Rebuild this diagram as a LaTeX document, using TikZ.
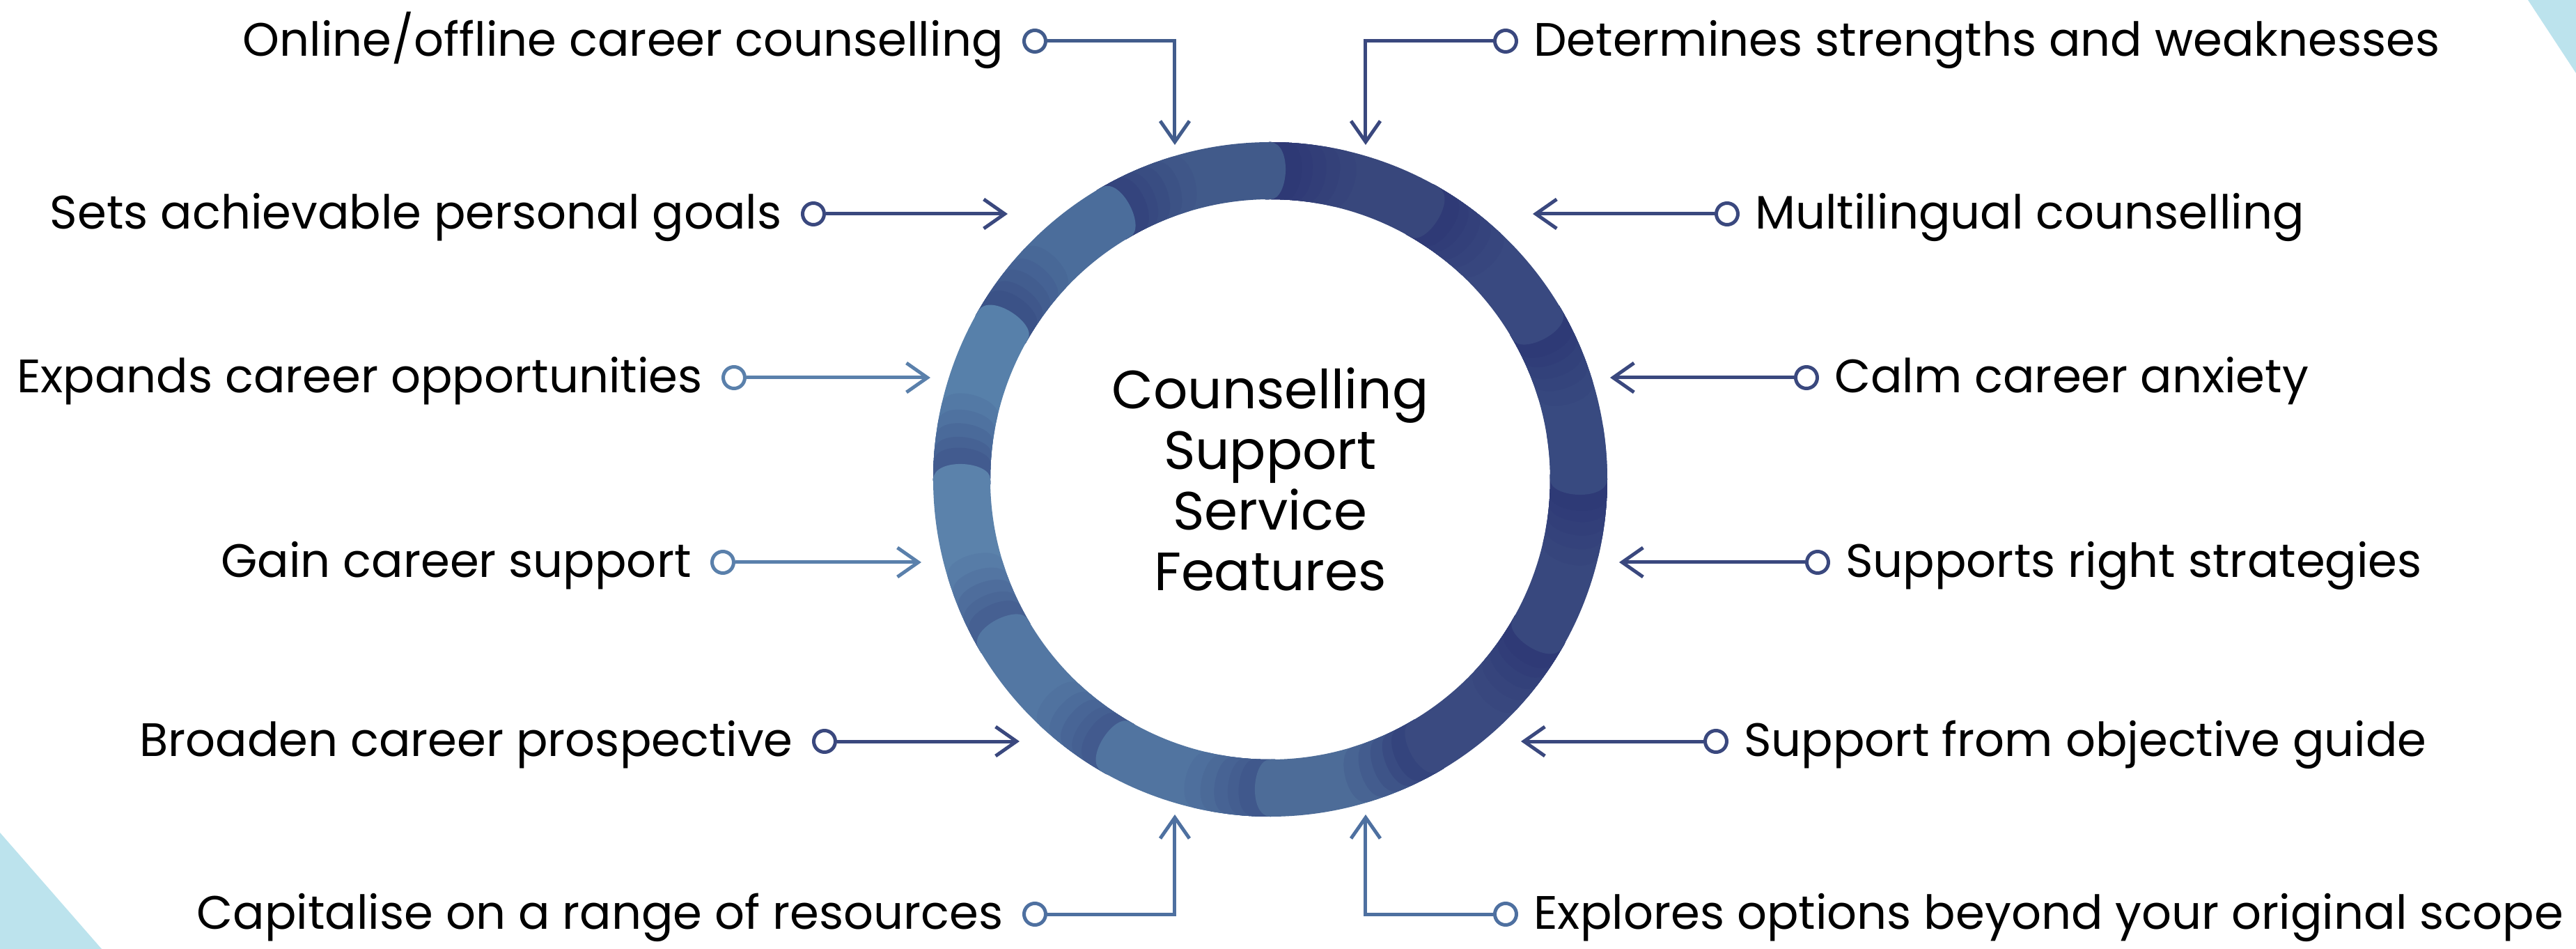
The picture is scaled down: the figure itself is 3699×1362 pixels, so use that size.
\documentclass[tikz,border=0pt]{standalone}
\usepackage{fontspec}
\setmainfont{Poppins}
\usetikzlibrary{arrows.meta,positioning}

\definecolor{navy}{RGB}{44,54,116}
\definecolor{segA}{RGB}{56,71,124}
\definecolor{segB}{RGB}{57,73,128}
\definecolor{segC}{RGB}{56,74,128}
\definecolor{segD}{RGB}{56,72,126}
\definecolor{segE}{RGB}{58,74,128}
\definecolor{segF}{RGB}{77,108,152}
\definecolor{segG}{RGB}{81,116,160}
\definecolor{segH}{RGB}{83,119,163}
\definecolor{segI}{RGB}{91,130,171}
\definecolor{segJ}{RGB}{87,128,170}
\definecolor{segK}{RGB}{75,109,155}
\definecolor{segL}{RGB}{65,90,138}
\definecolor{corner}{RGB}{188,227,237}
\definecolor{linedark}{RGB}{58,72,126}
\definecolor{linemid}{RGB}{66,92,140}
\definecolor{linelight}{RGB}{90,128,171}
\definecolor{linebot}{RGB}{78,112,160}

\newcommand{\rout}{484}
\newcommand{\rin}{402}
\newcommand{\capd}{3.8}

% one piece of the ring: rounded end at angle #1, cut end at angle #2
\newcommand{\segshape}[2]{(#2+1:\rout) arc[start angle=#2+1, end angle=#1, radius=\rout]
  .. controls (#1-\capd:\rout) and (#1-\capd:\rin) .. (#1:\rin)
  arc[start angle=#1, end angle=#2+1, radius=\rin] -- cycle}

% segment from #1 to #1+30, body colour #2, darker towards its far end by #3 percent
\newcommand{\ringseg}[3]{%
  \fill[#2] \segshape{#1}{#1+30};
  \foreach \d/\p in {13/0.2,10/0.4,7.5/0.6,5/0.8,3/1}
    {\pgfmathtruncatemacro{\q}{#3*\p}
     \fill[navy!\q!#2] \segshape{#1+30-\d}{#1+30};}
}

\begin{document}
\begin{tikzpicture}
  [x=0.02cm, y=0.02cm,
   lbl/.style={font=\fontsize{38.3}{46}\selectfont, inner sep=0pt, yshift=-0.34cm},
   dot/.style={circle, draw=#1, fill=white, line width=0.1cm, minimum size=0.62cm, inner sep=0pt},
   conn/.style={draw=#1, line width=0.1cm, -{Straight Barb[length=0.6cm,width=0.84cm]}}]
  \useasboundingbox (-1824,-674) rectangle (1875,688);
  \fill[white] (-1824,-674) rectangle (1875,688);
  \fill[corner] (-1824,-507) -- (-1678,-674) -- (-1824,-674) -- cycle;
  \fill[corner] (1806,688) -- (1875,583) -- (1875,688) -- cycle;

  % ring
  \ringseg{0}{segC}{80}
  \ringseg{30}{segB}{80}
  \ringseg{60}{segA}{85}
  \ringseg{90}{segL}{60}
  \ringseg{120}{segK}{50}
  \ringseg{150}{segJ}{50}
  \ringseg{180}{segI}{45}
  \ringseg{210}{segH}{45}
  \ringseg{240}{segG}{45}
  \ringseg{270}{segF}{75}
  \ringseg{300}{segE}{80}
  \ringseg{330}{segD}{80}
  \fill[segC] \segshape{0}{8};

  \node[font=\fontsize{44}{49.5}\selectfont, align=center] (title) at (0,0)
    {Counselling\\Support\\Service\\Features};

  % left side
  \node[dot=linemid] (c1l) at (-338,629) {};
  \node[dot=linedark] (c2l) at (-656,381) {};
  \node[dot=linelight] (c3l) at (-770,146) {};
  \node[dot=linelight] (c4l) at (-786,-119) {};
  \node[dot=linedark] (c5l) at (-640,-376) {};
  \node[dot=linebot] (c6l) at (-338,-624) {};
  \node[lbl, left=0.54cm of c1l, anchor=mid east] (l1) {Online/offline career counselling};
  \node[lbl, left=0.54cm of c2l, anchor=mid east] (l2) {Sets achievable personal goals};
  \node[lbl, left=0.54cm of c3l, anchor=mid east] (l3) {Expands career opportunities};
  \node[lbl, left=0.54cm of c4l, anchor=mid east] (l4) {Gain career support};
  \node[lbl, left=0.54cm of c5l, anchor=mid east] (l5) {Broaden career prospective};
  \node[lbl, left=0.54cm of c6l, anchor=mid east] (l6) {Capitalise on a range of resources};
  \coordinate (t1l) at (-137,480);
  \coordinate (t2l) at (-377,381);
  \coordinate (t3l) at (-488,146);
  \coordinate (t4l) at (-501,-119);
  \coordinate (t5l) at (-360,-376);
  \coordinate (t6l) at (-137,-481);
  \draw[conn=linemid] (c1l) -| (t1l);
  \draw[conn=linedark] (c2l) -- (t2l);
  \draw[conn=linelight] (c3l) -- (t3l);
  \draw[conn=linelight] (c4l) -- (t4l);
  \draw[conn=linedark] (c5l) -- (t5l);
  \draw[conn=linebot] (c6l) -| (t6l);

  % right side
  \node[dot=linedark] (c1r) at (338,629) {};
  \node[dot=linedark] (c2r) at (656,381) {};
  \node[dot=linedark] (c3r) at (770,146) {};
  \node[dot=linedark] (c4r) at (786,-119) {};
  \node[dot=linedark] (c5r) at (640,-376) {};
  \node[dot=linebot] (c6r) at (338,-624) {};
  \node[lbl, right=0.44cm of c1r, anchor=mid west] (r1) {Determines strengths and weaknesses};
  \node[lbl, right=0.44cm of c2r, anchor=mid west] (r2) {Multilingual counselling};
  \node[lbl, right=0.44cm of c3r, anchor=mid west] (r3) {Calm career anxiety};
  \node[lbl, right=0.44cm of c4r, anchor=mid west] (r4) {Supports right strategies};
  \node[lbl, right=0.44cm of c5r, anchor=mid west] (r5) {Support from objective guide};
  \node[lbl, right=0.44cm of c6r, anchor=mid west] (r6) {Explores options beyond your original scope};
  \coordinate (t1r) at (137,480);
  \coordinate (t2r) at (377,381);
  \coordinate (t3r) at (488,146);
  \coordinate (t4r) at (501,-119);
  \coordinate (t5r) at (360,-376);
  \coordinate (t6r) at (137,-481);
  \draw[conn=linedark] (c1r) -| (t1r);
  \draw[conn=linedark] (c2r) -- (t2r);
  \draw[conn=linedark] (c3r) -- (t3r);
  \draw[conn=linedark] (c4r) -- (t4r);
  \draw[conn=linedark] (c5r) -- (t5r);
  \draw[conn=linebot] (c6r) -| (t6r);
\end{tikzpicture}
\end{document}
